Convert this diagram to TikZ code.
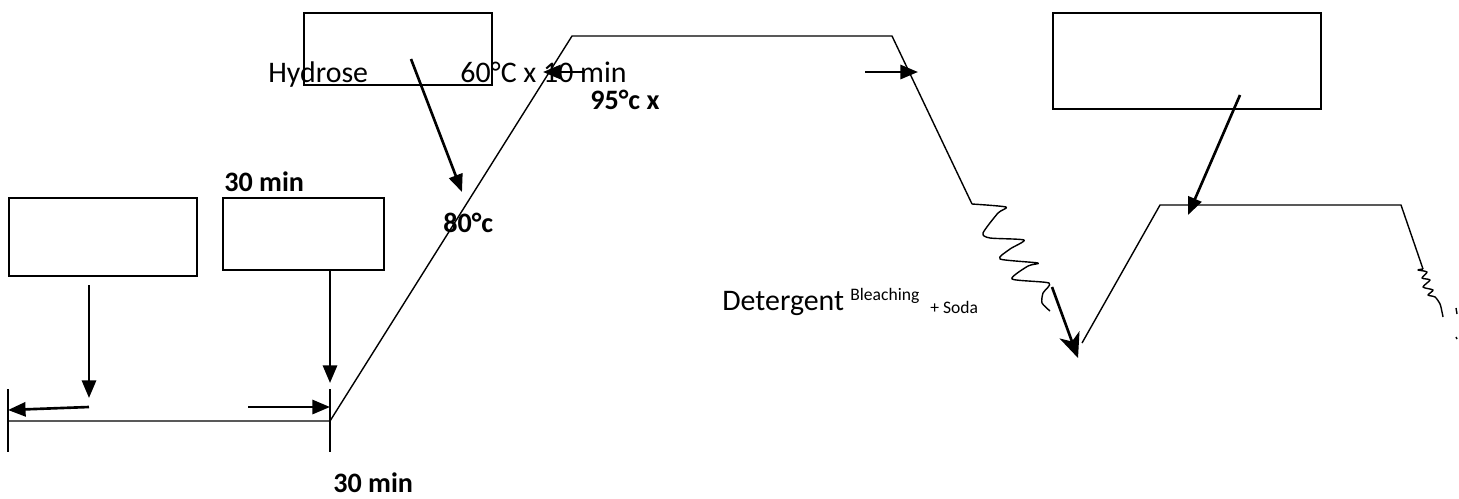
\documentclass[tikz,border=0pt]{standalone}
\usepackage{fontspec}
\setmainfont{Carlito}
\usetikzlibrary{arrows.meta}
\tikzset{
  box/.style={draw, line width=0.9pt, inner sep=0pt, anchor=north west},
  feed/.style={line width=1.5pt, -{Triangle[length=10pt,width=8pt]}},
  curve/.style={line width=0.8pt, line join=round},
  lbl/.style={anchor=base west, inner sep=0pt, font=\fontsize{17}{19}\selectfont},
  blbl/.style={anchor=base west, inner sep=0pt, font=\fontsize{16}{18}\selectfont\bfseries},
  tiny/.style={anchor=base west, inner sep=0pt, font=\fontsize{10}{12}\selectfont},
}
\begin{document}
\begin{tikzpicture}[x=0.02cm, y=-0.02cm]
\useasboundingbox (0,0) rectangle (1459,498);

% empty dosing boxes
\node[box, minimum width=3.76cm, minimum height=1.56cm] (mixbox)   at (8,197)    {};
\node[box, minimum width=3.22cm, minimum height=1.44cm] (fillbox)  at (222,197)  {};
\node[box, minimum width=3.76cm, minimum height=1.44cm] (hydrobox) at (303,12)   {};
\node[box, minimum width=5.36cm, minimum height=1.92cm] (bleachbox) at (1052,12) {};

% temperature profile
\coordinate (t0) at (330,421);
\coordinate (t1) at (572,36);
\coordinate (t2) at (892,36);
\coordinate (t3) at (972,204);
\coordinate (t4) at (1082,343);
\coordinate (t5) at (1160,205);
\coordinate (t6) at (1401,205);
\coordinate (t7) at (1423,269);
\coordinate (s0) at (8,421);

\draw[curve] (s0) -- (t0) -- (t1) -- (t2) -- (t3);
\draw[curve] (t4) -- (t5) -- (t6) -- (t7);
\draw[curve] (8,389) -- (8,452);
\draw[curve] (330,389) -- (330,452);

% cooling squiggles
\draw[curve] plot[smooth, tension=0.4] coordinates {(t3) (1006,207) (998,213) (983,233) (990,238) (1024,240)
  (1010,249) (1000,259) (1038,263) (1028,266) (1012,279) (1049,283) (1043,293) (1042,303) (1050,311)};
\draw[curve] plot[smooth, tension=0.45] coordinates {(t7) (1418,270) (1427,272) (1422,278) (1430,280)
  (1423,287) (1433,290) (1428,295) (1435,297) (1440,304) (1442,312) (1443,317)};
\draw[curve] (1456,308) -- (1457,314);
\draw[curve] (1456,337) -- (1457,339);

% dosing arrows
\coordinate (a1) at (89,285);
\coordinate (a2) at (89,398);
\draw[feed] (a1) -- (a2);
\draw[feed] (fillbox.south -| t0) -- (330,383);
\coordinate (h1) at (411,59);
\coordinate (h2) at (462,192);
\draw[feed] (h1) -- (h2);
\coordinate (b1) at (1240,95);
\coordinate (b2) at (1188,215);
\draw[feed] (b1) -- (b2);
\coordinate (d1) at (1052,287);
\coordinate (d2) at (1078,358);
\draw[line width=1.5pt, -{Stealth[length=14pt,width=12pt,inset=4pt]}] (d1) -- (d2);

% time arrows
\draw[feed] (89,407) -- (s0 |- 0,410);
\draw[feed] (248,407) -- (t0 |- 0,407);
\draw[feed] (585,72) -- (543,72);
\draw[feed] (865,72) -- (918,72);

% labels
\node[lbl]  (hyd)  at (268,82)  {Hydrose};
\node[lbl]  (hold) at (460,82)  {60°C x 10 min};
\node[blbl] (boil) at (590,109) {95°c x};
\node[blbl] (tA)   at (224,191) {30 min};
\node[blbl] (temp) at (443,232) {80°c};
\node[lbl]  (det)  at (722,310) {Detergent};
\node[tiny] (blch) at (850,300) {Bleaching};
\node[tiny] (soda) at (930,313) {+ Soda};
\node[blbl] (tB)   at (333,492) {30 min};
\end{tikzpicture}
\end{document}
